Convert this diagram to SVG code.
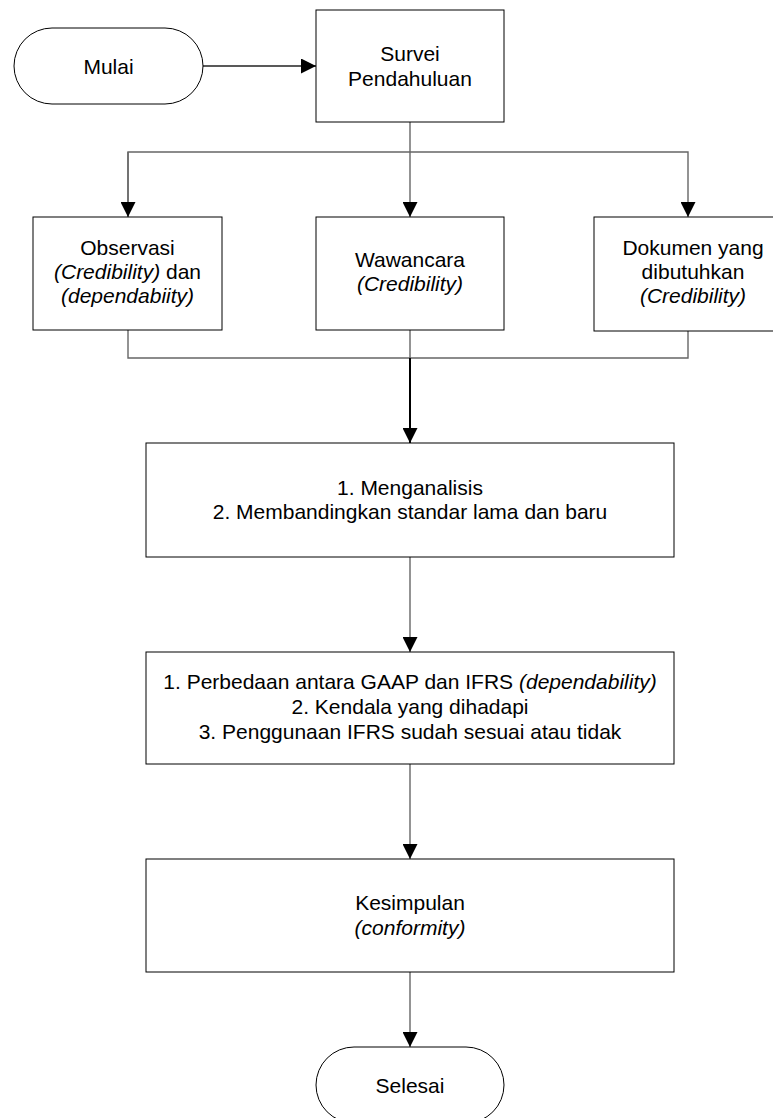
<svg xmlns="http://www.w3.org/2000/svg" width="773" height="1118" viewBox="0 0 773 1118">
<style>
  .box { fill: #fff; stroke: #000; stroke-width: 1; }
  .t { font-family: "Liberation Sans", Arial, sans-serif; font-size: 21px; fill: #000; text-anchor: middle; }
  .i { font-style: italic; }
  .c { fill: none; stroke: #666; stroke-width: 1.4; }
  .cb { fill: none; stroke: #000; stroke-width: 2; }
</style>
<defs>
  <marker id="arr" markerUnits="userSpaceOnUse" markerWidth="15" markerHeight="15" refX="15" refY="7.5" orient="auto">
    <path d="M0,0 L15,7.5 L0,15 z" fill="#000"/>
  </marker>
</defs>
<rect width="773" height="1118" fill="#fff"/>
<g id="connectors">
  <line class="c" x1="203" y1="66" x2="316" y2="66" marker-end="url(#arr)" style="stroke:#222"/>
  <polyline class="c" points="410,122 410,152"/>
  <polyline class="c" points="128,217 128,152 688,152 688,217" marker-end="url(#arr)"/>
  <line class="c" x1="128" y1="152" x2="128" y2="217" marker-end="url(#arr)"/>
  <line class="c" x1="410" y1="152" x2="410" y2="217" marker-end="url(#arr)"/>
  <polyline class="c" points="128,330 128,358 688,358 688,331"/>
  <line class="c" x1="410" y1="330" x2="410" y2="358"/>
  <line class="cb" x1="410" y1="358" x2="410" y2="443" marker-end="url(#arr)"/>
  <line class="c" x1="410" y1="557" x2="410" y2="652" marker-end="url(#arr)"/>
  <line class="c" x1="410" y1="764" x2="410" y2="859" marker-end="url(#arr)"/>
  <line class="c" x1="410" y1="972" x2="410" y2="1047" marker-end="url(#arr)"/>
</g>
<g id="mulai">
  <rect class="box" x="14" y="28" width="189" height="76" rx="38" ry="38"/>
  <text class="t" x="108.5" y="73.5">Mulai</text>
</g>
<g id="survei">
  <rect class="box" x="316" y="10" width="188" height="112"/>
  <text class="t" x="410" y="61">Survei</text>
  <text class="t" x="410" y="86">Pendahuluan</text>
</g>
<g id="observasi">
  <rect class="box" x="33" y="217" width="189" height="113"/>
  <text class="t" x="127.5" y="255">Observasi</text>
  <text class="t" x="127.5" y="279"><tspan class="i">(Credibility)</tspan> dan</text>
  <text class="t i" x="127.5" y="303">(dependabiity)</text>
</g>
<g id="wawancara">
  <rect class="box" x="316" y="217" width="188" height="113"/>
  <text class="t" x="410" y="267">Wawancara</text>
  <text class="t i" x="410" y="291">(Credibility)</text>
</g>
<g id="dokumen">
  <rect class="box" x="594" y="217" width="189" height="114"/>
  <text class="t" x="693" y="255">Dokumen yang</text>
  <text class="t" x="693" y="279">dibutuhkan</text>
  <text class="t i" x="693" y="303">(Credibility)</text>
</g>
<g id="analisis">
  <rect class="box" x="146" y="443" width="528" height="114"/>
  <text class="t" x="410" y="495">1. Menganalisis</text>
  <text class="t" x="410" y="519">2. Membandingkan standar lama dan baru</text>
</g>
<g id="hasil">
  <rect class="box" x="146" y="652" width="528" height="112"/>
  <text class="t" x="410" y="689">1. Perbedaan antara GAAP dan IFRS <tspan class="i">(dependability)</tspan></text>
  <text class="t" x="410" y="714">2. Kendala yang dihadapi</text>
  <text class="t" x="410" y="739">3. Penggunaan IFRS sudah sesuai atau tidak</text>
</g>
<g id="kesimpulan">
  <rect class="box" x="146" y="859" width="528" height="113"/>
  <text class="t" x="410" y="910">Kesimpulan</text>
  <text class="t i" x="410" y="935">(conformity)</text>
</g>
<g id="selesai">
  <rect class="box" x="316" y="1047" width="188" height="76" rx="38" ry="38"/>
  <text class="t" x="410" y="1092.5">Selesai</text>
</g>
</svg>
